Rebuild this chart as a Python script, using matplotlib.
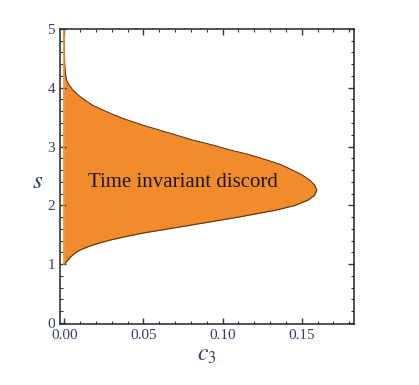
import matplotlib.pyplot as plt
import numpy as np
from matplotlib.ticker import MultipleLocator

# right boundary of the region
s_vals = [1.00, 1.03, 1.07, 1.12, 1.19, 1.24, 1.29, 1.35, 1.41, 1.47, 1.53, 1.61,
          1.70, 1.80, 1.92, 2.00, 2.09, 2.17, 2.26, 2.35, 2.43, 2.52, 2.60, 2.69,
          2.77, 2.86, 2.94, 3.03, 3.11, 3.20, 3.28, 3.36, 3.45, 3.53, 3.62, 3.70,
          3.79, 3.87, 3.96, 4.05, 4.13, 4.25, 4.40, 4.70, 5.00]
c3_vals = [0.0, 0.0010, 0.0023, 0.0040, 0.0068, 0.0100, 0.0144, 0.021, 0.029, 0.039, 0.050, 0.068,
           0.088, 0.110, 0.134, 0.146, 0.154, 0.158, 0.1595, 0.158, 0.155, 0.150, 0.144, 0.137,
           0.128, 0.117, 0.105, 0.093, 0.081, 0.070, 0.060, 0.050, 0.040, 0.032, 0.0245, 0.018,
           0.0131, 0.009, 0.0055, 0.003, 0.0015, 0.0007, 0.0003, 0.0001, 0.0]
region_label = "Time invariant discord"

label_color = "#2f4170"
orange = "#f28b2c"

plt.rcParams["font.family"] = ["Liberation Serif", "DejaVu Serif"]
plt.rcParams["mathtext.fontset"] = "stix"

fig = plt.figure(figsize=(4.19, 3.85), dpi=100)
ax = fig.add_axes([0.143, 0.158, 0.702, 0.767])

s = np.array(s_vals)
c3 = np.array(c3_vals)
ax.fill_betweenx(s, 0, c3, color=orange, lw=0)
ax.plot(c3, s, color="#5a3418", lw=0.8)
ax.plot([0, 0], [1, 5], color=orange, lw=1.2)

ax.text(0.075, 2.38, region_label, ha="center", va="center", fontsize=15, color="#1a1a1a")

ax.set_xlim(-0.0027, 0.183)
ax.set_ylim(-0.02, 5)
ax.xaxis.set_major_locator(MultipleLocator(0.05))
ax.xaxis.set_minor_locator(MultipleLocator(0.01))
ax.yaxis.set_major_locator(MultipleLocator(1))
ax.yaxis.set_minor_locator(MultipleLocator(0.2))
ax.xaxis.set_major_formatter(plt.FuncFormatter(lambda v, p: f"{v:.2f}"))

ax.tick_params(which="both", direction="in", top=True, right=True,
               labelsize=11, labelcolor=label_color, color="#333333")
ax.tick_params(which="major", length=4, width=1)
ax.tick_params(which="minor", length=2.5, width=0.8)
for sp in ax.spines.values():
    sp.set_linewidth(1.2)
    sp.set_color("#333333")

ax.set_xlabel("$c_3$", fontsize=17, color=label_color, labelpad=2)
ax.set_ylabel("$s$", fontsize=18, color=label_color, rotation=0, labelpad=8, va="center")
ax.yaxis.set_label_coords(-0.075, 0.48)

fig.savefig("out.png", dpi=100)
